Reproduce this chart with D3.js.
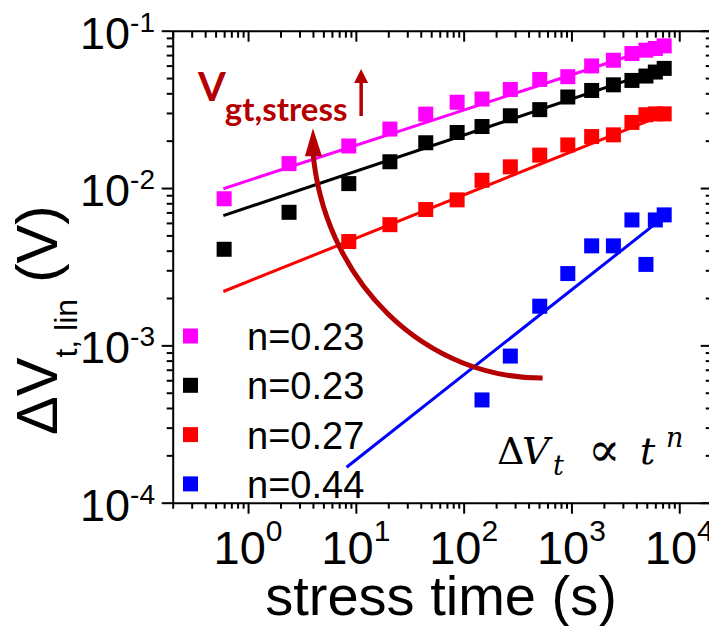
<!DOCTYPE html>
<html>
<head>
<meta charset="utf-8">
<script src="https://cdn.jsdelivr.net/npm/d3@7"></script>
<style>
  html, body { margin: 0; padding: 0; background: #fff; }
  svg { display: block; font-family: "Liberation Sans", Arial, sans-serif; }
  text { fill: #000; }
</style>
</head>
<body>
<svg id="chart" width="709" height="626"></svg>
<script>
// ---- measured threshold-voltage shift vs. stress time ----
const timesMagenta = [0.6, 2.4, 8.6, 20.7, 44.5, 87, 148, 271, 508, 925, 1540, 2450, 3640, 4910, 6000, 7250];
const shiftMagenta = [0.00855, 0.0143, 0.0185, 0.0237, 0.0295, 0.0351, 0.0368, 0.0423, 0.0490, 0.0510, 0.0597, 0.0649, 0.0716, 0.0752, 0.0771, 0.0801];

const timesBlack = [0.6, 2.4, 8.6, 20.7, 44.5, 87, 148, 271, 508, 925, 1540, 2450, 3640, 4910, 6000, 7250];
const shiftBlack = [0.00408, 0.00701, 0.01067, 0.01469, 0.0194, 0.02254, 0.0246, 0.0288, 0.0315, 0.0379, 0.0417, 0.0453, 0.0483, 0.0515, 0.0546, 0.0576];

const timesRed = [8.6, 20.7, 44.5, 87, 148, 271, 508, 925, 1540, 2450, 3640, 4910, 6000, 7250];
const shiftRed = [0.00457, 0.00585, 0.00730, 0.00841, 0.01120, 0.01364, 0.01619, 0.01879, 0.02124, 0.02178, 0.02612, 0.02923, 0.0296, 0.0296];

const timesBlue = [148, 271, 508, 925, 1540, 2450, 3640, 4910, 6000, 7250];
const shiftBlue = [0.000450, 0.000855, 0.001774, 0.00286, 0.00429, 0.00429, 0.00627, 0.00327, 0.00627, 0.00675];

// power-law fit lines: [start time, end time] and [start shift, end shift]
const fitTimesMagenta = [0.59, 7400];
const fitShiftMagenta = [0.0099, 0.082];
const fitTimesBlack = [0.59, 7400];
const fitShiftBlack = [0.00668, 0.0582];
const fitTimesRed = [0.59, 7400];
const fitShiftRed = [0.0022, 0.0295];
const fitTimesBlue = [8.2, 6150];
const fitShiftBlue = [0.000168, 0.0060];

const seriesColors = ["#ff00ff", "#000000", "#ff0000", "#0000ff"];
const legendLabels = ["n=0.23", "n=0.23", "n=0.27", "n=0.44"];

// axis tick labels (powers of ten)
const xTickExponents = [0, 1, 2, 3, 4];
const yTickExponents = [-1, -2, -3, -4];

// annotation anchors in data space
const sweepArcTip = { t: 4, v: 0.024 };
const sweepArcEnd = { t: 540, v: 6.2e-4 };
const upArrow = { t: 11.2, vFrom: 0.0287, vTo: 0.0571 };

// ---- build series ----
const series = [
  { times: timesMagenta, shift: shiftMagenta, fitT: fitTimesMagenta, fitV: fitShiftMagenta },
  { times: timesBlack, shift: shiftBlack, fitT: fitTimesBlack, fitV: fitShiftBlack },
  { times: timesRed, shift: shiftRed, fitT: fitTimesRed, fitV: fitShiftRed },
  { times: timesBlue, shift: shiftBlue, fitT: fitTimesBlue, fitV: fitShiftBlue }
].map((s, i) => ({
  color: seriesColors[i],
  label: legendLabels[i],
  points: s.times.map((t, j) => ({ t, v: s.shift[j] })),
  fit: s.fitT.map((t, j) => ({ t, v: s.fitV[j] }))
}));

const svg = d3.select("#chart");
const frame = { left: 172.7, top: 30.7, right: 711.7, bottom: 502.7 };

const x = d3.scaleLog().domain([0.2, 2e4]).range([frame.left, frame.right]);
const y = d3.scaleLog().domain([1e-4, 1e-1]).range([frame.bottom, frame.top]);

const darkRed = "#b40000";

// ---- fit lines ----
const line = d3.line().x(d => x(d.t)).y(d => y(d.v));
svg.append("g").selectAll("path")
  .data(series)
  .join("path")
  .attr("d", d => line(d.fit))
  .attr("fill", "none")
  .attr("stroke", d => d.color)
  .attr("stroke-width", 3);

// ---- sweep arrow (quarter ellipse) ----
{
  const ex = x(sweepArcEnd.t), ey = y(sweepArcEnd.v);
  const tx = x(sweepArcTip.t), ty = y(sweepArcTip.v);
  const rx = ex - tx, ry = ey - ty;
  const headLen = 28, headHalf = 8.5;
  svg.append("path")
    .attr("d", `M${ex},${ey} A${rx},${ry} 0 0 1 ${tx},${ty + headLen - 4}`)
    .attr("fill", "none")
    .attr("stroke", darkRed)
    .attr("stroke-width", 5);
  svg.append("path")
    .attr("d", `M${tx},${ty} L${tx + headHalf + 0.5},${ty + headLen} L${tx - headHalf + 0.5},${ty + headLen} Z`)
    .attr("fill", darkRed);
}

// ---- data markers ----
const markSize = 15;
svg.append("g").selectAll("g")
  .data(series)
  .join("g")
  .attr("fill", d => d.color)
  .selectAll("rect")
  .data(d => d.points)
  .join("rect")
  .attr("x", d => x(d.t) - markSize / 2)
  .attr("y", d => y(d.v) - markSize / 2)
  .attr("width", markSize)
  .attr("height", markSize);

// ---- axes ----
function decadeTicks(lo, hi) {
  const out = [];
  for (let e = Math.floor(Math.log10(lo)); e <= Math.ceil(Math.log10(hi)); e++) {
    for (let m = 1; m <= 9; m++) {
      const v = +(m * Math.pow(10, e)).toPrecision(4);
      if (v >= lo * 0.9999 && v <= hi * 1.0001) out.push(v);
    }
  }
  return out;
}
const isMajor = v => Math.abs(Math.log10(v) - Math.round(Math.log10(v))) < 1e-6;
const xTicks = decadeTicks(0.2, 2e4);
const yTicks = decadeTicks(1e-4, 1e-1);

function drawAxis(gen, ticks, transform, minorLen, majorLen, attr, sign) {
  const g = svg.append("g")
    .attr("transform", transform)
    .call(gen.tickValues(ticks).tickSize(minorLen).tickSizeOuter(0).tickFormat(""));
  g.selectAll("text").remove();
  g.selectAll(".tick line").filter(d => isMajor(d)).attr(attr, sign * majorLen);
  g.selectAll("line, path").attr("stroke", "#000").attr("stroke-width", 2);
  return g;
}
drawAxis(d3.axisBottom(x), xTicks, `translate(0,${frame.bottom})`, 6, 11, "y2", 1); // outward
drawAxis(d3.axisBottom(x), xTicks, `translate(0,${frame.top})`, 7, 11, "y2", 1);    // inward
drawAxis(d3.axisLeft(y), yTicks, `translate(${frame.left},0)`, 6, 11, "x2", -1);    // outward
drawAxis(d3.axisLeft(y), yTicks, `translate(${frame.right},0)`, 6, 11, "x2", -1);   // inward

// tick labels with superscript exponents
const xLab = svg.append("g").selectAll("text")
  .data(xTickExponents)
  .join("text")
  .attr("x", e => x(Math.pow(10, e)))
  .attr("y", 564)
  .attr("text-anchor", "middle")
  .attr("font-size", 47);
xLab.append("tspan").text("10");
xLab.append("tspan").attr("font-size", 30).attr("dy", -23).text(e => e);

const yLab = svg.append("g").selectAll("text")
  .data(yTickExponents)
  .join("text")
  .attr("x", 155)
  .attr("y", e => y(Math.pow(10, e)) + 18)
  .attr("text-anchor", "end")
  .attr("font-size", 45);
yLab.append("tspan").text("10");
yLab.append("tspan").attr("font-size", 28).attr("dy", -17).text(e => "-" + Math.abs(e));

// axis titles
svg.append("text")
  .attr("x", 441)
  .attr("y", 615)
  .attr("text-anchor", "middle")
  .attr("font-size", 56)
  .text("stress time (s)");

const yTitle = svg.append("text")
  .attr("transform", "translate(57,435) rotate(-90)")
  .attr("font-size", 58);
yTitle.append("tspan").text("\u0394V");
yTitle.append("tspan").attr("font-size", 32).attr("dy", 20).text("t, lin");
yTitle.append("tspan").attr("dy", -20).text(" (V)");

// ---- legend ----
const legendX = 183, legendY0 = 336, legendGap = 49.3;
const leg = svg.append("g").selectAll("g")
  .data(series)
  .join("g")
  .attr("transform", (d, i) => `translate(${legendX},${legendY0 + i * legendGap})`);
leg.append("rect")
  .attr("x", 0).attr("y", -7.5)
  .attr("width", 15).attr("height", 15)
  .attr("fill", d => d.color);
leg.append("text")
  .attr("x", 64).attr("y", 14)
  .attr("font-size", 38)
  .text(d => d.label);

// ---- V_gt,stress annotation ----
const vgt = svg.append("text")
  .attr("x", 198)
  .attr("y", 101)
  .style("font-family", "Lato, 'Open Sans', sans-serif")
  .attr("font-weight", "bold")
  .attr("font-size", 40)
  .style("fill", darkRed);
vgt.append("tspan").text("V");
vgt.append("tspan").attr("font-size", 33).attr("dy", 20).attr("dx", -1).text("gt,stress");

{
  const ax = x(upArrow.t), y0 = y(upArrow.vFrom), y1 = y(upArrow.vTo);
  svg.append("line")
    .attr("x1", ax).attr("x2", ax)
    .attr("y1", y0).attr("y2", y1 + 12)
    .attr("stroke", darkRed).attr("stroke-width", 3.5);
  svg.append("path")
    .attr("d", `M${ax},${y1} L${ax + 7},${y1 + 14} L${ax - 7},${y1 + 14} Z`)
    .attr("fill", darkRed);
}

// ---- power-law relation ----
const rel = svg.append("text")
  .attr("y", 464)
  .style("font-family", "'DejaVu Serif', serif")
  .attr("font-size", 38);
rel.append("tspan").attr("x", 497).text("\u0394");
rel.append("tspan").attr("x", 522).attr("font-style", "italic").text("V");
rel.append("tspan").attr("x", 553).attr("dy", 11).attr("font-size", 27).attr("font-style", "italic").text("t");
rel.append("tspan").attr("x", 588).attr("dy", -9).attr("font-size", 48).text("\u221D");
rel.append("tspan").attr("x", 640).attr("dy", -2).attr("font-style", "italic").text("t");
rel.append("tspan").attr("x", 666).attr("dy", -17).attr("font-size", 27).attr("font-style", "italic").text("n");
</script>
</body>
</html>
